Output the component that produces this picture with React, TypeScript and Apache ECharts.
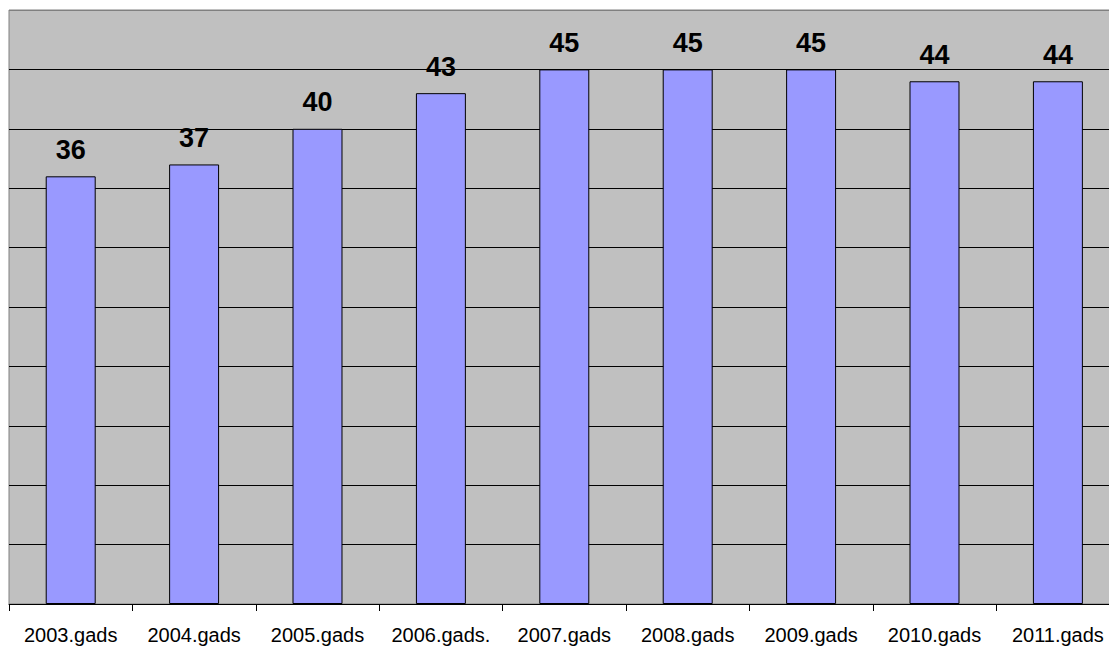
import React, { useEffect, useRef } from "react";
import * as echarts from "echarts";

const categories = [
  "2003.gads",
  "2004.gads",
  "2005.gads",
  "2006.gads.",
  "2007.gads",
  "2008.gads",
  "2009.gads",
  "2010.gads",
  "2011.gads",
];
const values = [36, 37, 40, 43, 45, 45, 45, 44, 44];
const yMin = 0;
const yMax = 50;
const yInterval = 5;

export default function App() {
  const ref = useRef<HTMLDivElement>(null);
  useEffect(() => {
    if (!ref.current) return;
    const chart = echarts.init(ref.current, undefined, { renderer: "svg" });
    const splitColors: string[] = [];
    for (let v = yMin; v <= yMax; v += yInterval) {
      splitColors.push(v === yMax ? "#808080" : "#000000");
    }
    chart.setOption({
      animation: false,
      backgroundColor: "#ffffff",
      grid: {
        left: 9,
        right: 10.4,
        top: 10,
        bottom: 45,
        show: true,
        backgroundColor: "#C0C0C0",
        borderColor: "#808080",
        borderWidth: 1,
        containLabel: false,
      },
      xAxis: {
        type: "category",
        data: categories,
        axisLine: { show: true, lineStyle: { color: "#000000", width: 1 } },
        axisTick: {
          show: true,
          interval: 0,
          alignWithLabel: false,
          length: 7,
          lineStyle: { color: "#000000", width: 1 },
        },
        axisLabel: {
          interval: 0,
          margin: 21,
          color: "#000000",
          fontFamily: "Liberation Sans, Arial, sans-serif",
          fontSize: 20,
        },
        splitLine: { show: false },
      },
      yAxis: {
        type: "value",
        min: yMin,
        max: yMax,
        interval: yInterval,
        axisLine: { show: false },
        axisTick: { show: false },
        axisLabel: { show: false },
        splitLine: { show: true, lineStyle: { color: splitColors, width: 1 } },
      },
      series: [
        {
          type: "bar",
          data: values,
          barWidth: "40.5%",
          itemStyle: { color: "#9999FF", borderColor: "#000000", borderWidth: 1 },
          label: {
            show: true,
            position: "top",
            distance: 13,
            color: "#000000",
            fontWeight: "bold",
            fontFamily: "Liberation Sans, Arial, sans-serif",
            fontSize: 27,
          },
        },
      ],
    });
    return () => chart.dispose();
  }, []);
  return (
    <div
      style={{
        position: "fixed",
        left: 0,
        top: 0,
        width: 1109,
        height: 649,
        overflow: "hidden",
        background: "#ffffff",
      }}
    >
      <div ref={ref} style={{ width: 1130, height: 649 }} />
    </div>
  );
}
